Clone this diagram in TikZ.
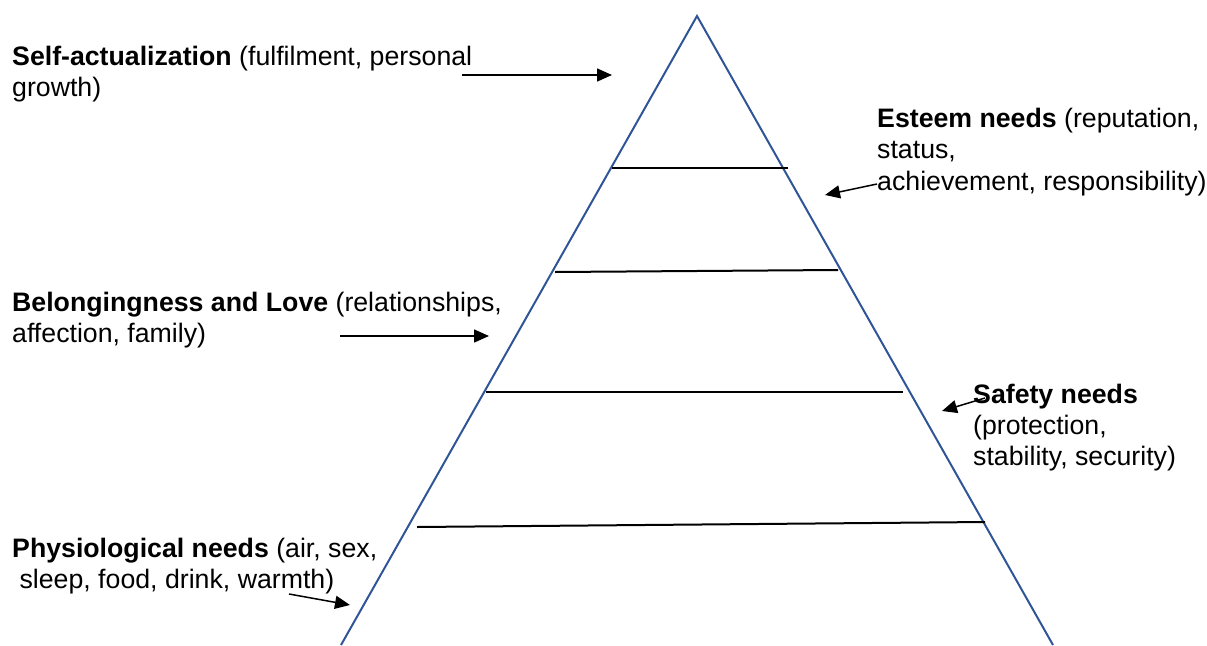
\documentclass[tikz,border=0pt]{standalone}
\usepackage{fontspec}
\setmainfont{Liberation Sans}
\usetikzlibrary{arrows.meta}
\definecolor{pyr}{RGB}{47,85,151}
\tikzset{
  lbl/.style={anchor=base west, inner sep=0pt, font=\fontsize{26.7}{31}\selectfont},
  edge/.style={draw=pyr, line width=2pt, line join=miter},
  level/.style={draw=black, line width=2pt},
  ptr/.style={draw=black, line width=1.5pt, -{Triangle[length=15pt,width=13pt]}}
}
\begin{document}
\begin{tikzpicture}[x=1pt,y=-1pt]
\useasboundingbox (0,0) rectangle (1207,645);
% pyramid
\coordinate (apex) at (697,16);
\coordinate (bl) at (341,645);
\coordinate (br) at (1053,645);
\draw[edge] (bl) -- (apex) -- (br);
% level lines
\coordinate (l1a) at (612,168); \coordinate (l1b) at (788,168);
\coordinate (l2a) at (555,272); \coordinate (l2b) at (838,270);
\coordinate (l3a) at (486,392); \coordinate (l3b) at (903,392);
\coordinate (l4a) at (417,527); \coordinate (l4b) at (985,522);
\draw[level] (l1a) -- (l1b);
\draw[level] (l2a) -- (l2b);
\draw[level] (l3a) -- (l3b);
\draw[level] (l4a) -- (l4b);
% labels
\node[lbl] (sa1) at (12,65) {\textbf{Self-actualization} (fulfilment, personal};
\node[lbl] (sa2) at (12,96) {growth)};
\node[lbl] (es1) at (877,127) {\textbf{Esteem needs} (reputation,};
\node[lbl] (es2) at (877,158) {status,};
\node[lbl] (es3) at (877,190) {achievement, responsibility)};
\node[lbl] (bl1) at (12,311) {\textbf{Belongingness and Love} (relationships,};
\node[lbl] (bl2) at (12,342) {affection, family)};
\node[lbl] (sf1) at (973,403) {\textbf{Safety needs}};
\node[lbl] (sf2) at (973,434) {(protection,};
\node[lbl] (sf3) at (973,465) {stability, security)};
\node[lbl] (ph1) at (12,557) {\textbf{Physiological needs} (air, sex,};
\node[lbl] (ph2) at (12,588) {\ sleep, food, drink, warmth)};
% pointers
\coordinate (saS) at (462,75); \coordinate (saE) at (612,75);
\coordinate (esS) at (877,184); \coordinate (esE) at (825,195);
\coordinate (blS) at (340,336); \coordinate (blE) at (489,336);
\coordinate (sfS) at (985,398); \coordinate (sfE) at (942,411);
\coordinate (phS) at (289,594); \coordinate (phE) at (350,605);
\draw[ptr] (saS) -- (saE);
\draw[ptr] (esS) -- (esE);
\draw[ptr] (blS) -- (blE);
\draw[ptr] (sfS) -- (sfE);
\draw[ptr] (phS) -- (phE);
\end{tikzpicture}
\end{document}
